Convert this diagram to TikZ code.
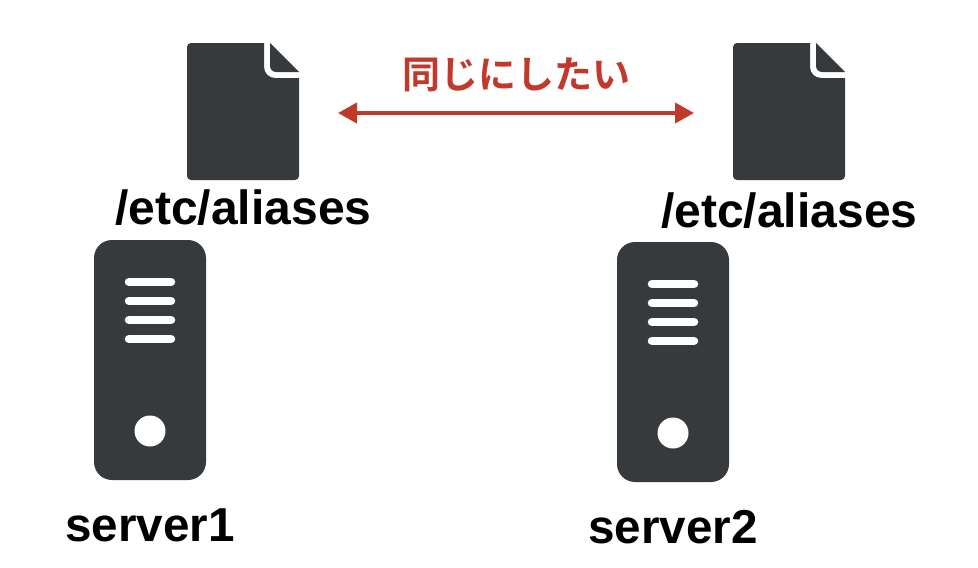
\documentclass[tikz,border=0pt]{standalone}
\usepackage{fontspec}
\setmainfont{Liberation Sans}
\newfontfamily\cjkfont{Noto Sans CJK JP}[BoldFont={Noto Sans CJK JP Bold}]
\usetikzlibrary{arrows.meta}
\definecolor{icondark}{HTML}{363A3D}
\definecolor{redline}{HTML}{C0392B}
\tikzset{
  x=1pt,y=-1pt,
  icon/.style={fill=icondark,draw=none},
  slot/.style={draw=white,line width=8.5pt,line cap=round},
  lamp/.style={fill=white,draw=none},
  label/.style={font=\fontsize{48}{48}\selectfont\bfseries,text=black,inner sep=0pt,anchor=base west},
  srvlabel/.style={font=\fontsize{47.6}{48}\selectfont\bfseries,text=black,inner sep=0pt,anchor=base west},
  jplabel/.style={font=\fontsize{38}{38}\selectfont\cjkfont\bfseries,text=redline,inner sep=0pt,anchor=base},
  link/.style={draw=redline,line width=4pt,{Triangle[length=19pt,width=20pt]}-{Triangle[length=19pt,width=20pt]}},
  pics/fileicon/.style={code={
    \fill[icon] (4,0) -- (77,0) -- (77,24) arc[start angle=180,end angle=90,radius=11] -- (112,35)
      -- (112,133) arc[start angle=0,end angle=90,radius=4] -- (4,137)
      arc[start angle=90,end angle=180,radius=4] -- (0,4) arc[start angle=180,end angle=270,radius=4] -- cycle;
    \fill[icon] (83,0) -- (112,29) -- (89,29) arc[start angle=90,end angle=180,radius=6] -- cycle;
  }},
  pics/servericon/.style={code={
    \fill[icon] (0,18) arc[start angle=180,end angle=270,radius=18] -- (94,0)
      arc[start angle=270,end angle=360,radius=18] -- (112,222)
      arc[start angle=0,end angle=90,radius=18] -- (18,240)
      arc[start angle=90,end angle=180,radius=18] -- cycle;
    \foreach \yy in {42,61,80,99}{\draw[slot] (35,\yy) -- (77,\yy);}
    \fill[lamp] (56,191) circle[radius=15.5];
  }}
}
\begin{document}
\begin{tikzpicture}
\useasboundingbox (0,0) rectangle (978,568);
\pic at (187,43) {fileicon};
\pic at (733,43) {fileicon};
\pic at (94,240) {servericon};
\pic at (617,242) {servericon};
\node[label] (file1) at (115,224) {/etc/aliases};
\node[label] (file2) at (661,227) {/etc/aliases};
\node[srvlabel] (srv1) at (65,541) {server1};
\node[srvlabel] (srv2) at (588,543) {server2};
\node[jplabel] (same) at (516.5,88) {同じにしたい};
\coordinate (la) at (338,113);
\coordinate (lb) at (694,113);
\draw[link] (la) -- (lb);
\end{tikzpicture}
\end{document}
